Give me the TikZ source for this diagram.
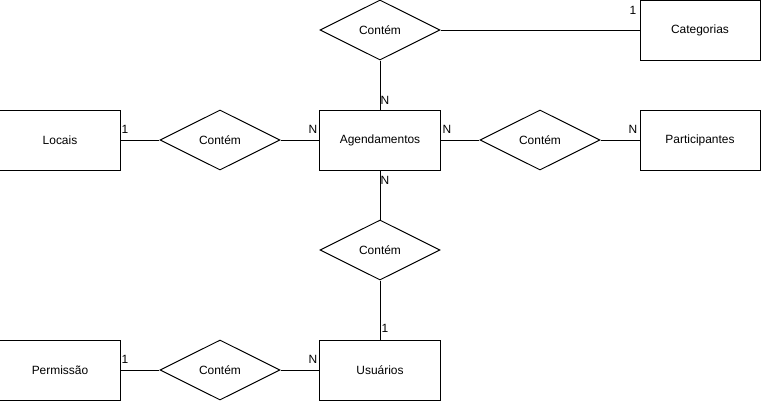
\documentclass[tikz,border=0pt]{standalone}
\usepackage{fontspec}
\setmainfont{Liberation Sans}
\usetikzlibrary{shapes.geometric}
\begin{document}
\begin{tikzpicture}
    [
    x=0.025cm, y=-0.025cm,
    entity/.style={rectangle,draw,line width=0.7pt,inner sep=0pt,minimum width=3cm,minimum height=1.5cm,font=\fontsize{8.5}{10}\selectfont},
    relation/.style={diamond,draw,line width=0.7pt,aspect=2,inner sep=0pt,minimum width=3cm,minimum height=1.5cm,font=\fontsize{8.5}{10}\selectfont},
    card/.style={inner sep=0pt,font=\fontsize{8.5}{10}\selectfont},
    link/.style={line width=0.7pt}
    ]
    \useasboundingbox (0,0) rectangle (762,402);
    \node (categorias) at (700,30) [entity] {Categorias};
    \node (locais) at (60,140) [entity] {Locais};
    \node (agenda) at (380,140) [entity] {Agendamentos};
    \node (particip) at (700,140) [entity] {Participantes};
    \node (permissao) at (60,370) [entity] {Permissão};
    \node (usuarios) at (380,370) [entity] {Usuários};
    \node (rtop) at (380,30) [relation] {Contém};
    \node (rleft) at (220,140) [relation] {Contém};
    \node (rright) at (540,140) [relation] {Contém};
    \node (rmid) at (380,250) [relation] {Contém};
    \node (rbottom) at (220,370) [relation] {Contém};
    \draw [link] (rtop) to (categorias);
    \draw [link] (rtop) to (agenda);
    \draw [link] (locais) to (rleft);
    \draw [link] (rleft) to (agenda);
    \draw [link] (agenda) to (rright);
    \draw [link] (rright) to (particip);
    \draw [link] (agenda) to (rmid);
    \draw [link] (rmid) to (usuarios);
    \draw [link] (permissao) to (rbottom);
    \draw [link] (rbottom) to (usuarios);
    \node (c1) at (633,10) [card] {1};
    \node (c2) at (385,100) [card] {N};
    \node (c3) at (125,129) [card] {1};
    \node (c4) at (313,129) [card] {N};
    \node (c5) at (447,129) [card] {N};
    \node (c6) at (633,129) [card] {N};
    \node (c7) at (385,180) [card] {N};
    \node (c8) at (385,328) [card] {1};
    \node (c9) at (125,359) [card] {1};
    \node (c10) at (313,359) [card] {N};
  \end{tikzpicture}
\end{document}
